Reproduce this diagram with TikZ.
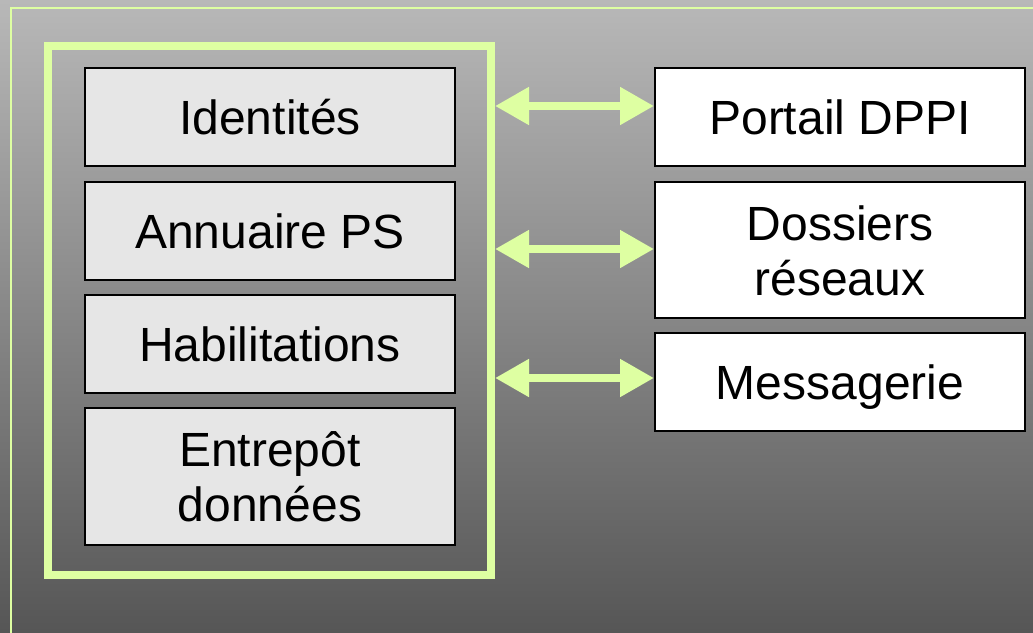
\documentclass[tikz,border=0pt]{standalone}
\usepackage{fontspec}
\setmainfont{Liberation Sans}
\usetikzlibrary{arrows.meta}
\definecolor{lgreen}{RGB}{222,255,162}
\definecolor{boxgray}{RGB}{230,230,230}
\definecolor{bgtop}{RGB}{184,184,184}
\definecolor{bgbot}{RGB}{86,86,86}
\tikzset{
  lbox/.style={draw=black, line width=2pt, fill=boxgray, minimum width=370pt, inner sep=0pt, align=center, text height=44pt, text depth=9pt, font=\fontsize{48}{55}\selectfont},
  rbox/.style={lbox, fill=white},
  twoline/.style={text height=99pt},
  darrow/.style={draw=lgreen, line width=8pt, {Triangle[length=34pt,width=36pt]}-{Triangle[length=34pt,width=36pt]}},
}
\begin{document}
\begin{tikzpicture}[x=1pt,y=-1pt]
\useasboundingbox (0,0) rectangle (1033,632);
\shade[top color=bgtop, bottom color=bgbot] (0,0) rectangle (1033,632);
\draw[lgreen, line width=1.6pt] (11,640) -- (11,8) -- (1040,8);
\node[draw=lgreen, line width=8pt, minimum width=443pt, minimum height=529pt, inner sep=0pt] (big) at (269.5,310.5) {};
\node[lbox, minimum height=98pt] (ident) at (270,117) {Identités};
\node[lbox, minimum height=98pt] (annu) at (270,230.5) {Annuaire PS};
\node[lbox, minimum height=98pt] (habil) at (270,344) {Habilitations};
\node[lbox, twoline, minimum height=137pt] (entre) at (270,476.5) {Entrepôt\\données};
\node[rbox, minimum height=98pt] (port) at (840,117) {Portail DPPI};
\node[rbox, twoline, minimum height=136pt] (doss) at (840,250) {Dossiers\\réseaux};
\node[rbox, minimum height=98pt] (mess) at (840,382) {Messagerie};
\coordinate (p1) at ([yshift=11pt]port.west);
\coordinate (p2) at ([yshift=1pt]doss.west);
\coordinate (p3) at ([yshift=4pt]mess.west);
\draw[darrow] (big.east |- p1) -- (p1);
\draw[darrow] (big.east |- p2) -- (p2);
\draw[darrow] (big.east |- p3) -- (p3);
\end{tikzpicture}
\end{document}
